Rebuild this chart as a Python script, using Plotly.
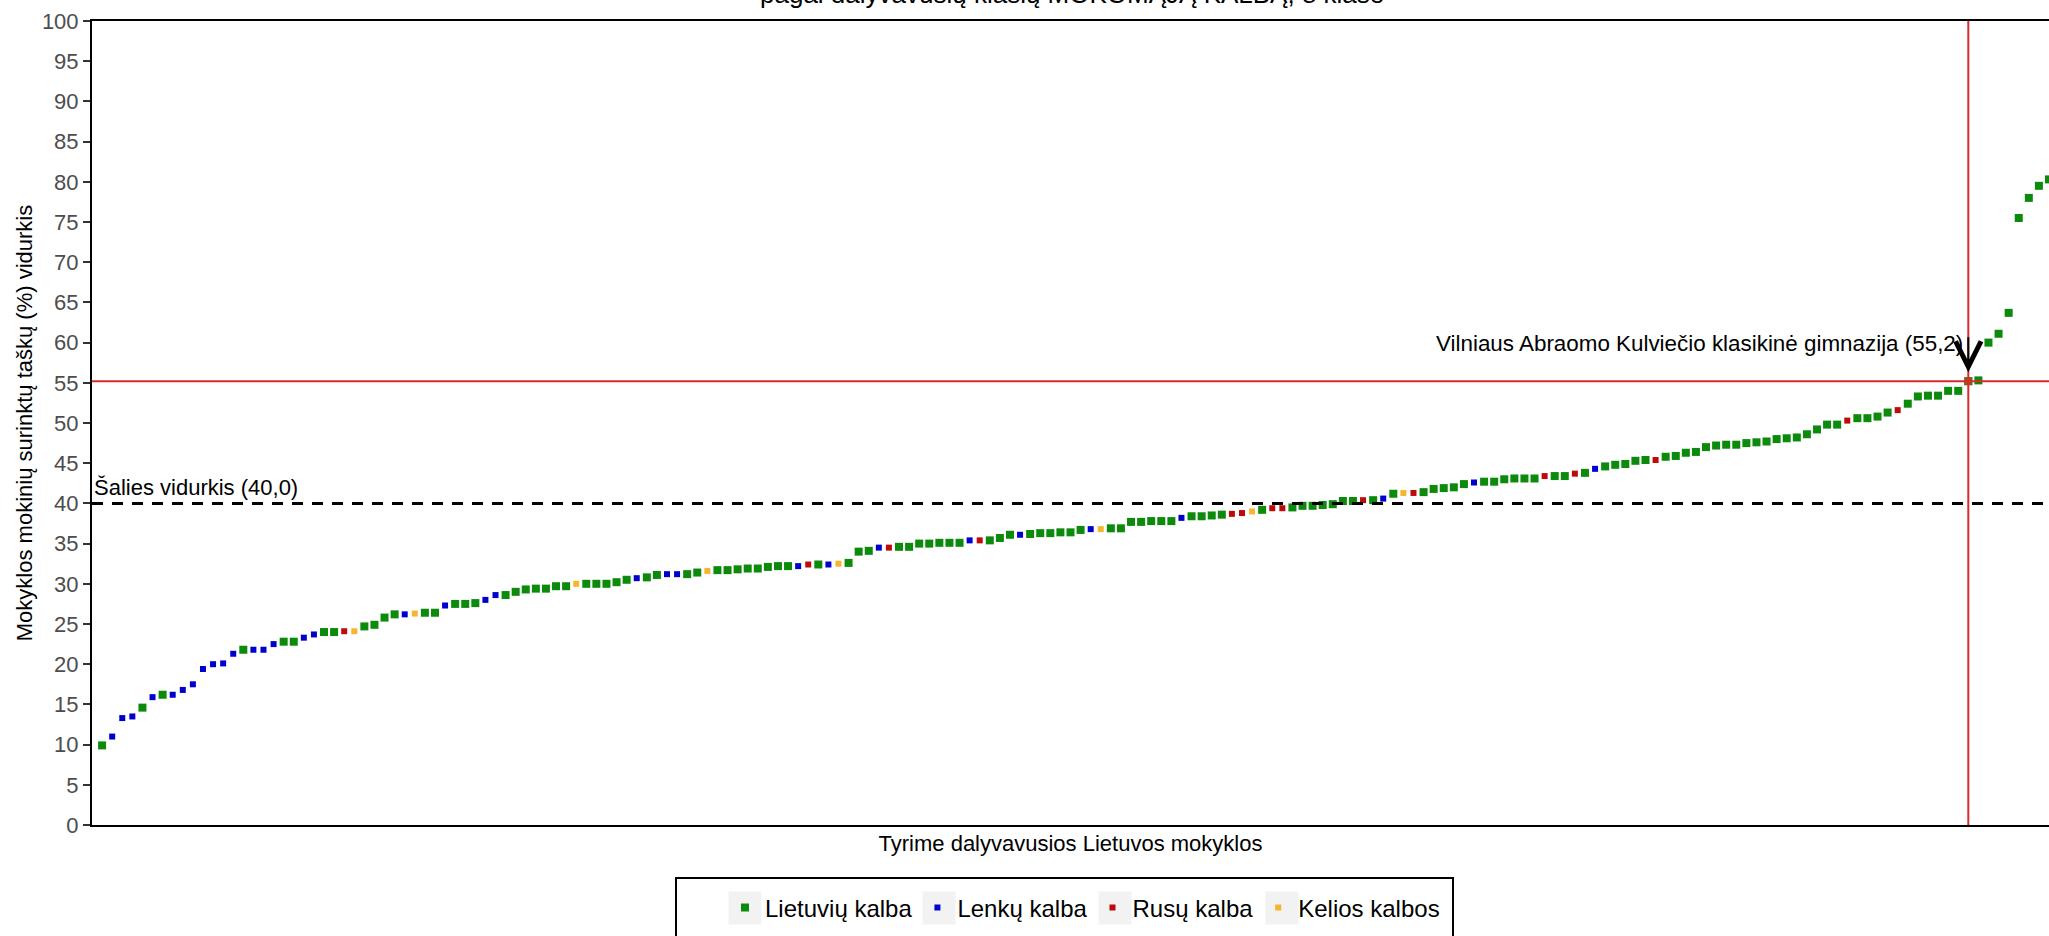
import plotly.graph_objects as go

# ---------------- data ----------------
scores = [
    9.9, 11.0, 13.3, 13.5, 14.6, 15.9, 16.2, 16.2, 16.8, 17.5,
    19.4, 20.0, 20.1, 21.3, 21.8, 21.8, 21.8, 22.5, 22.8, 22.8,
    23.3, 23.7, 24.0, 24.0, 24.1, 24.1, 24.7, 24.9, 25.8, 26.2,
    26.2, 26.3, 26.4, 26.4, 27.3, 27.5, 27.5, 27.6, 28.0, 28.6,
    28.6, 29.0, 29.3, 29.4, 29.4, 29.7, 29.7, 30.0, 30.0, 30.0,
    30.0, 30.2, 30.5, 30.7, 30.8, 31.1, 31.2, 31.2, 31.2, 31.4,
    31.6, 31.7, 31.7, 31.8, 31.9, 31.9, 32.1, 32.2, 32.2, 32.2,
    32.4, 32.4, 32.4, 32.5, 32.6, 34.0, 34.1, 34.5, 34.5, 34.6,
    34.6, 35.0, 35.0, 35.1, 35.1, 35.1, 35.4, 35.4, 35.4, 35.7,
    36.1, 36.1, 36.2, 36.3, 36.3, 36.4, 36.4, 36.7, 36.8, 36.8,
    36.9, 36.9, 37.7, 37.7, 37.8, 37.8, 37.8, 38.2, 38.4, 38.4,
    38.5, 38.6, 38.7, 38.8, 39.0, 39.2, 39.4, 39.4, 39.5, 39.7,
    39.7, 39.8, 39.9, 40.3, 40.3, 40.4, 40.4, 40.6, 41.2, 41.3,
    41.3, 41.4, 41.8, 41.9, 42.0, 42.4, 42.6, 42.7, 42.7, 43.0,
    43.1, 43.1, 43.1, 43.4, 43.4, 43.4, 43.7, 43.8, 44.3, 44.6,
    44.8, 44.9, 45.3, 45.4, 45.4, 45.8, 45.9, 46.3, 46.4, 47.0,
    47.2, 47.3, 47.3, 47.5, 47.6, 47.7, 48.0, 48.1, 48.2, 48.6,
    49.2, 49.8, 49.8, 50.3, 50.6, 50.6, 50.8, 51.3, 51.6, 52.4,
    53.3, 53.4, 53.4, 54.0, 54.0, 55.2, 55.3, 60.0, 61.1, 63.7,
    75.5, 78.0, 79.5, 80.3,
]

languages = [
    "LT", "PL", "PL", "PL", "LT", "PL", "LT", "PL", "PL", "PL",
    "PL", "PL", "PL", "PL", "LT", "PL", "PL", "PL", "LT", "LT",
    "PL", "PL", "LT", "LT", "RU", "MIX", "LT", "LT", "LT", "LT",
    "PL", "MIX", "LT", "LT", "PL", "LT", "LT", "LT", "PL", "PL",
    "LT", "LT", "LT", "LT", "LT", "LT", "LT", "MIX", "LT", "LT",
    "LT", "LT", "LT", "PL", "LT", "LT", "PL", "PL", "LT", "LT",
    "MIX", "LT", "LT", "LT", "LT", "LT", "LT", "LT", "LT", "PL",
    "RU", "LT", "PL", "MIX", "LT", "LT", "LT", "PL", "RU", "LT",
    "LT", "LT", "LT", "LT", "LT", "LT", "PL", "RU", "LT", "LT",
    "LT", "PL", "LT", "LT", "LT", "LT", "LT", "LT", "PL", "MIX",
    "LT", "LT", "LT", "LT", "LT", "LT", "LT", "PL", "LT", "LT",
    "LT", "LT", "RU", "RU", "MIX", "LT", "RU", "RU", "LT", "LT",
    "LT", "LT", "LT", "LT", "LT", "RU", "LT", "PL", "LT", "MIX",
    "RU", "LT", "LT", "LT", "LT", "LT", "PL", "LT", "LT", "LT",
    "LT", "LT", "LT", "RU", "LT", "LT", "RU", "LT", "PL", "LT",
    "LT", "LT", "LT", "LT", "RU", "LT", "LT", "LT", "LT", "LT",
    "LT", "LT", "LT", "LT", "LT", "LT", "LT", "LT", "LT", "LT",
    "LT", "LT", "LT", "RU", "LT", "LT", "LT", "LT", "RU", "LT",
    "LT", "LT", "LT", "LT", "LT", "LT", "LT", "LT", "LT", "LT",
    "LT", "LT", "LT", "LT",
]

language_order = ["LT", "PL", "RU", "MIX"]
language_names = {"LT": "Lietuvių kalba", "PL": "Lenkų kalba",
                  "RU": "Rusų kalba", "MIX": "Kelios kalbos"}
language_colors = {"LT": "#0B8A0B", "PL": "#0000CC",
                   "RU": "#BE0A0A", "MIX": "#F5B52E"}
language_sizes = {"LT": 8, "PL": 6, "RU": 6, "MIX": 6}

national_average = 40.0
highlight_rank = 186          # 1-based position of the highlighted school
highlight_school = "Vilniaus Abraomo Kulviečio klasikinė gimnazija"

title_text = "pagal dalyvavusių klasių MOKOMĄJĄ KALBĄ, 8 klasė"
x_title = "Tyrime dalyvavusios Lietuvos mokyklos"
y_title = "Mokyklos mokinių surinktų taškų (%) vidurkis"
y_tick_values = [0, 5, 10, 15, 20, 25, 30, 35, 40, 45, 50,
                 55, 60, 65, 70, 75, 80, 85, 90, 95, 100]

# ---------------- layout geometry ----------------
FIG_W, FIG_H = 2049, 936
M_L, M_R, M_T, M_B = 92, 0, 21, 111
PLOT_W = FIG_W - M_L - M_R
PLOT_H = FIG_H - M_T - M_B
FONT = "Liberation Sans, Arial, sans-serif"


def px2x(px):
    return (px - M_L) / PLOT_W


def py2y(py):
    return (FIG_H - M_B - py) / PLOT_H


def fmt(v):
    return f"{v:.1f}".replace(".", ",")


positions = list(range(1, len(scores) + 1))
highlight_value = scores[highlight_rank - 1]

fig = go.Figure()

for code in language_order:
    xs = [p for p, l in zip(positions, languages) if l == code]
    ys = [s for s, l in zip(scores, languages) if l == code]
    fig.add_trace(go.Scatter(
        x=xs, y=ys, mode="markers", name=language_names[code],
        marker=dict(symbol="square", size=language_sizes[code],
                    color=language_colors[code], line=dict(width=0)),
    ))

fig.add_trace(go.Scatter(
    x=[highlight_rank], y=[highlight_value], mode="markers", showlegend=False,
    marker=dict(symbol="square", size=8, color="#8C5A1C", line=dict(width=0)),
))

shapes = [
    dict(type="line", xref="paper", yref="y", x0=0, x1=1,
         y0=highlight_value, y1=highlight_value,
         line=dict(color="#D92B2B", width=2), layer="above"),
    dict(type="line", xref="x", yref="paper", x0=highlight_rank, x1=highlight_rank,
         y0=0, y1=1, line=dict(color="#D92B2B", width=2), layer="above"),
    dict(type="line", xref="paper", yref="y", x0=0, x1=1,
         y0=national_average, y1=national_average,
         line=dict(color="#000000", width=3, dash="11px,9px"), layer="above"),
    # legend frame
    dict(type="rect", xref="paper", yref="paper",
         x0=px2x(676), x1=px2x(1453), y0=py2y(878), y1=py2y(975),
         line=dict(color="#000000", width=2), fillcolor="rgba(0,0,0,0)",
         layer="above"),
]
# grey legend key backgrounds
for cx in [745, 939, 1115, 1282]:
    shapes.append(dict(type="rect", xref="paper", yref="paper",
                       x0=px2x(cx - 16.5), x1=px2x(cx + 16.5),
                       y0=py2y(908 + 16.5), y1=py2y(908 - 16.5),
                       line=dict(width=0), fillcolor="#F2F2F2", layer="below"))

annotations = [
    dict(text=title_text, xref="paper", yref="paper", x=px2x(1072), y=1,
         xanchor="center", yanchor="bottom", yshift=10, showarrow=False,
         font=dict(size=26, color="#000000", family=FONT)),
    dict(text=f"Šalies vidurkis ({fmt(national_average)})", xref="x", yref="y",
         x=0, y=national_average, xanchor="left", yanchor="bottom",
         xshift=0, yshift=1, showarrow=False,
         font=dict(size=22, color="#000000", family=FONT)),
    dict(text=f"{highlight_school} ({fmt(highlight_value)})", xref="x", yref="y",
         x=highlight_rank, y=highlight_value, xanchor="right", yanchor="bottom",
         xshift=-3, yshift=23, showarrow=False,
         font=dict(size=22.4, color="#000000", family=FONT)),
    dict(text="", xref="x", yref="y", x=highlight_rank, y=highlight_value,
         showarrow=True, ax=0, ay=-44, arrowhead=5, arrowwidth=2,
         arrowsize=2.5, arrowcolor="#000000", standoff=9,
         borderpad=0, borderwidth=0, font=dict(size=1)),
]

fig.update_layout(
    width=FIG_W, height=FIG_H,
    margin=dict(l=M_L, r=M_R, t=M_T, b=M_B, autoexpand=False),
    paper_bgcolor="#FFFFFF", plot_bgcolor="#FFFFFF",
    font=dict(family=FONT, color="#000000"),
    shapes=shapes, annotations=annotations,
    legend=dict(orientation="h", x=px2x(725), xanchor="left",
                y=py2y(908), yanchor="middle", bgcolor="rgba(0,0,0,0)",
                borderwidth=0, font=dict(size=24, color="#000000", family=FONT),
                itemsizing="trace", traceorder="normal"),
    xaxis=dict(range=[0, 194], showgrid=False, zeroline=False,
               showline=True, mirror=True, linecolor="#000000", linewidth=2,
               ticks="", showticklabels=False,
               title=dict(text=x_title, standoff=10,
                          font=dict(size=22, color="#000000", family=FONT))),
    yaxis=dict(range=[0, 100], tickvals=y_tick_values, showgrid=False,
               zeroline=False, showline=True, linecolor="#000000", linewidth=2,
               ticks="outside", ticklen=7, tickwidth=2, tickcolor="#333333",
               tickfont=dict(size=22, color="#4D4D4D", family=FONT),
               title=dict(text=y_title, standoff=3,
                          font=dict(size=22, color="#000000", family=FONT))),
)

fig.write_html(
    "out.html",
    config={"displayModeBar": False},
    post_script="document.body.style.margin='0px';"
                "document.body.style.overflow='hidden';",
)
